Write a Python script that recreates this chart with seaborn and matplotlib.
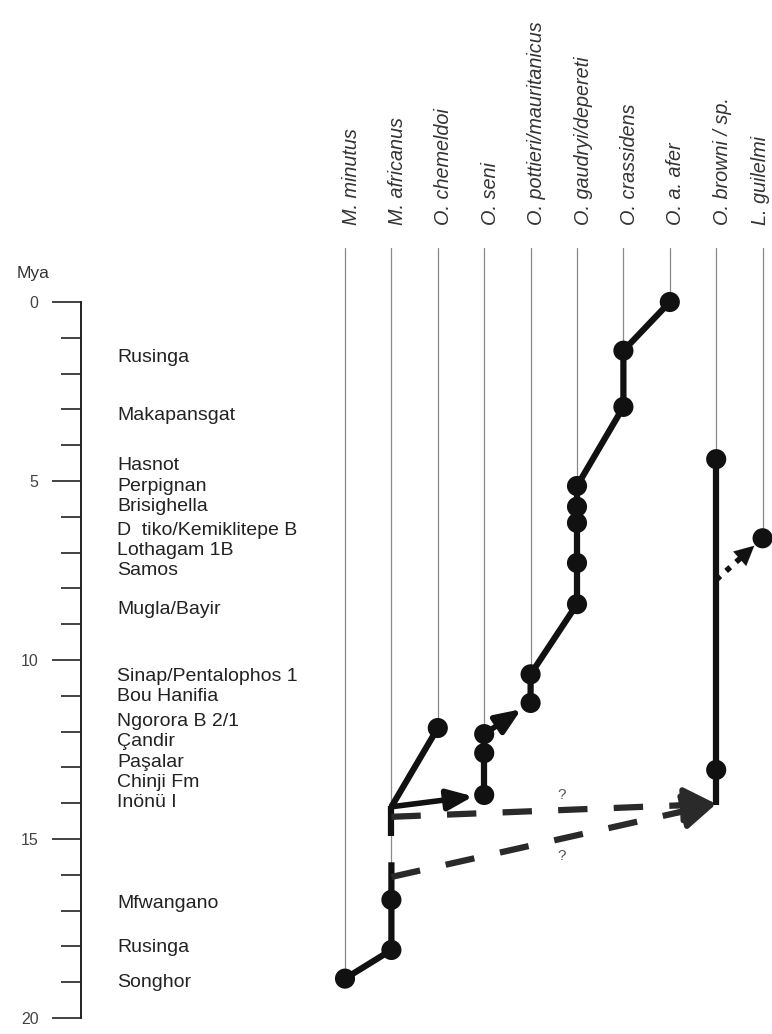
import pandas as pd
import matplotlib.pyplot as plt
import seaborn as sns

# taxa (one column each) and localities on the time scale
species = ["M. minutus", "M. africanus", "O. chemeldoi", "O. seni",
           "O. pottieri/mauritanicus", "O. gaudryi/depereti", "O. crassidens",
           "O. a. afer", "O. browni / sp.", "L. guilelmi"]

localities = ["Rusinga", "Makapansgat", "Hasnot", "Perpignan", "Brisighella",
              "D  tiko/Kemiklitepe B", "Lothagam 1B", "Samos", "Mugla/Bayir",
              "Sinap/Pentalophos 1", "Bou Hanifia", "Ngorora B 2/1", "Çandir",
              "Paşalar", "Chinji Fm", "Inönü I", "Mfwangano", "Rusinga", "Songhor"]
locality_mya = [1.56, 3.16, 4.58, 5.14, 5.70, 6.37, 6.93, 7.49, 8.60,
                10.47, 11.03, 11.73, 12.29, 12.85, 13.41, 13.97, 16.79, 18.04, 19.02]

# occurrences (dots)
occ_species = ["M. minutus",
               "M. africanus", "M. africanus",
               "O. chemeldoi",
               "O. seni", "O. seni", "O. seni",
               "O. pottieri/mauritanicus", "O. pottieri/mauritanicus",
               "O. gaudryi/depereti", "O. gaudryi/depereti", "O. gaudryi/depereti",
               "O. gaudryi/depereti", "O. gaudryi/depereti",
               "O. crassidens", "O. crassidens",
               "O. a. afer",
               "O. browni / sp.", "O. browni / sp.",
               "L. guilelmi"]
occ_mya = [18.9,
           16.7, 18.1,
           11.9,
           12.07, 12.6, 13.77,
           10.4, 11.2,
           5.14, 5.72, 6.17, 7.29, 8.44,
           1.36, 2.93,
           0.0,
           4.39, 13.07,
           6.6]

# solid lineage paths
path_africanus = [("M. minutus", 18.9), ("M. africanus", 18.1),
                  ("M. africanus", 16.7), ("M. africanus", 15.65)]
path_chemeldoi = [("M. africanus", 14.1), ("O. chemeldoi", 11.9)]
path_seni = [("O. seni", 13.77), ("O. seni", 12.6), ("O. seni", 12.07)]
path_gaudryi = [("O. pottieri/mauritanicus", 11.2), ("O. pottieri/mauritanicus", 10.4),
                ("O. gaudryi/depereti", 8.44), ("O. gaudryi/depereti", 7.29),
                ("O. gaudryi/depereti", 6.17), ("O. gaudryi/depereti", 5.72),
                ("O. gaudryi/depereti", 5.14), ("O. crassidens", 2.93),
                ("O. crassidens", 1.36), ("O. a. afer", 0.0)]
path_browni = [("O. browni / sp.", 14.05), ("O. browni / sp.", 13.07),
               ("O. browni / sp.", 4.39)]
solid_paths = [path_africanus, path_chemeldoi, path_seni, path_gaudryi, path_browni]

# uncertain stretch on M. africanus
uncertain_africanus = [("M. africanus", 14.08), ("M. africanus", 15.65)]

# arrows (start, end)
solid_arrows = [(("M. africanus", 14.1), ("O. seni", 13.77)),
                (("O. seni", 12.07), ("O. pottieri/mauritanicus", 11.2))]
dashed_arrows = [(("M. africanus", 14.38), ("O. browni / sp.", 14.02)),
                 (("M. africanus", 16.06), ("O. browni / sp.", 14.02))]
dotted_arrow = (("O. browni / sp.", 7.76), ("L. guilelmi", 6.6))

question_marks = [("O. pottieri/mauritanicus", 13.78, 0.66), ("O. pottieri/mauritanicus", 15.47, 0.66)]

# layout in pixels (figure is 772 x 1034)
FIG_W, FIG_H = 772, 1034
COL0_PX, COL_STEP_PX = 345, 46.4
MYA0_PX, PX_PER_MY = 302, 35.8
SPINE_PX = 81
INK = "#111111"

col = {s: i for i, s in enumerate(species)}


def xy(pt):
    return col[pt[0]], pt[1]


sns.set_theme(style="ticks")
plt.rcParams["font.family"] = ["Liberation Sans", "DejaVu Sans"]

fig = plt.figure(figsize=(FIG_W / 100, FIG_H / 100), dpi=100)
ax = fig.add_axes([0, 0, 1, 1])
ax.set_xlim(-COL0_PX / COL_STEP_PX, (FIG_W - COL0_PX) / COL_STEP_PX)
ax.set_ylim((FIG_H - MYA0_PX) / PX_PER_MY, -MYA0_PX / PX_PER_MY)

# thin column lines + rotated taxon labels
occ = pd.DataFrame({"species": occ_species, "mya": occ_mya})
occ["x"] = occ["species"].map(col)
first_app = occ.groupby("x")["mya"].max()
for i, s in enumerate(species):
    ax.plot([i, i], [-1.5, first_app[i]], color="#8a8a8a", lw=0.9, zorder=1)
    dx = 0.25 if i < len(species) - 1 else 0.07  # last one sits at the edge
    ax.text(i + dx, -2.15, s, rotation=90, rotation_mode="anchor",
            ha="left", va="baseline", fontsize=14.3, style="italic", color="#333333")

# lineages
for path in solid_paths:
    xs, ys = zip(*[xy(p) for p in path])
    ax.plot(xs, ys, color=INK, lw=4.5, solid_joinstyle="round",
            solid_capstyle="butt", zorder=3)

xs, ys = zip(*[xy(p) for p in uncertain_africanus])
ax.plot(xs, ys, color=INK, lw=4.5, dashes=(4.8, 4.6), zorder=3)

for a, b in solid_arrows:
    ax.annotate("", xy=xy(b), xytext=xy(a),
                arrowprops=dict(arrowstyle="-|>,head_length=1.1,head_width=0.45",
                                mutation_scale=14, lw=4.0, color=INK,
                                shrinkA=0, shrinkB=8), zorder=3)

for a, b in dashed_arrows:
    (x0, y0), (x1, y1) = xy(a), xy(b)
    ax.plot([x0, x1], [y0, y1], color="#2a2a2a", lw=4.5, dashes=(4.7, 4.2),
            dash_capstyle="butt", zorder=3)
    ax.annotate("", xy=(x1, y1), xytext=(x1 - 0.12 * (x1 - x0), y1 - 0.12 * (y1 - y0)),
                arrowprops=dict(arrowstyle="-|>,head_length=1.0,head_width=0.55",
                                mutation_scale=20, lw=4.0, color="#2a2a2a",
                                shrinkA=0, shrinkB=0), zorder=3)

(x0, y0), (x1, y1) = xy(dotted_arrow[0]), xy(dotted_arrow[1])
ax.plot([x0, x0 + 0.55 * (x1 - x0)], [y0, y0 + 0.55 * (y1 - y0)], color=INK,
        lw=4.0, dashes=(1.0, 1.4), zorder=3)
ax.annotate("", xy=(x1, y1), xytext=(x0 + 0.5 * (x1 - x0), y0 + 0.5 * (y1 - y0)),
            arrowprops=dict(arrowstyle="-|>,head_length=1.0,head_width=0.5",
                            mutation_scale=14, lw=0.1, color=INK,
                            shrinkA=0, shrinkB=8), zorder=3)

for s, m, dx in question_marks:
    ax.text(col[s] + dx, m, "?", ha="center", va="center", fontsize=11, color="#555555")

# occurrences
sns.scatterplot(data=occ, x="x", y="mya", ax=ax, color=INK, s=210,
                edgecolor="none", legend=False, zorder=4)

# localities
for name, m in zip(localities, locality_mya):
    ax.text((117 - COL0_PX) / COL_STEP_PX, m, name, ha="left", va="center",
            fontsize=14, color="#222222")

# time scale
for side in ["top", "right", "bottom"]:
    ax.spines[side].set_visible(False)
ax.spines["left"].set_position(("data", (SPINE_PX - COL0_PX) / COL_STEP_PX))
ax.spines["left"].set_bounds(0, 20)
ax.spines["left"].set_linewidth(1.4)
ax.spines["left"].set_color("#222222")
ax.set_xticks([])
ax.set_yticks(range(0, 21, 5))
ax.set_yticks(range(0, 21), minor=True)
ax.tick_params(axis="y", which="major", length=21, width=1.2, pad=9.5,
               labelsize=11.5, labelcolor="#444444", color="#222222")
ax.tick_params(axis="y", which="minor", length=14.4, width=1.2, color="#222222")
ax.set_xlabel("")
ax.set_ylabel("")
fig.text(33 / FIG_W, 1 - 273 / FIG_H, "Mya", ha="center", va="center",
         fontsize=12.5, color="#333333")

fig.savefig("out.png", dpi=100)
